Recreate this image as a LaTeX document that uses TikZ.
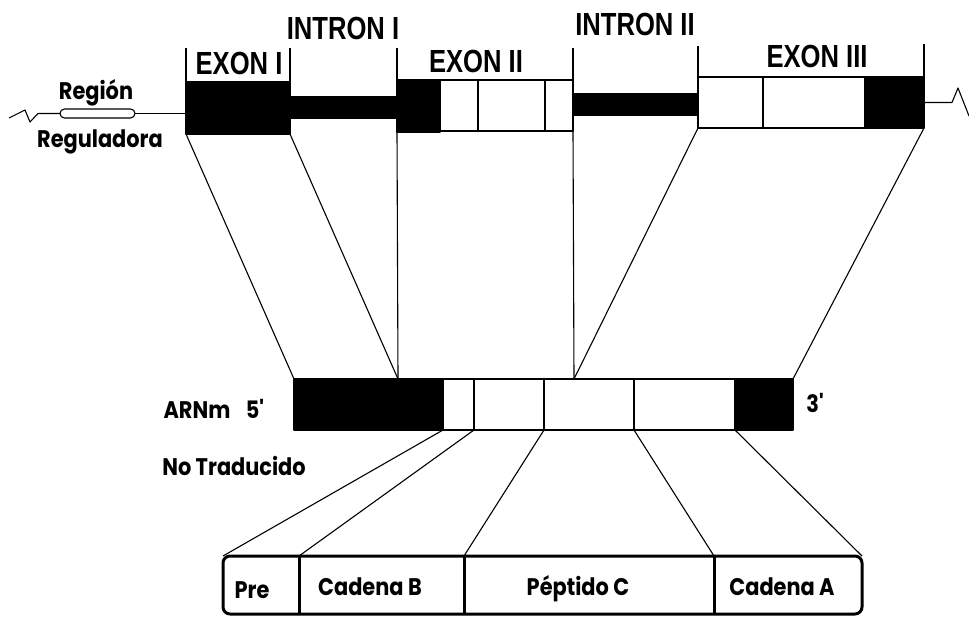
\documentclass[tikz,border=0pt]{standalone}
\usepackage{fontspec}
\setmainfont{Liberation Sans}
\newfontfamily\hdfont[FakeStretch=0.8]{Liberation Sans}
\newfontfamily\cmfont[FakeStretch=0.87]{Poppins}
\begin{document}
\begin{tikzpicture}[x=1pt,y=-1pt,line join=round,
  box/.style={anchor=north west,inner sep=0,outer sep=0,minimum height=51pt,line width=1.2pt},
  blk/.style={box,fill=black,draw=black},
  wht/.style={box,fill=white,draw=black},
  conn/.style={line width=1.1pt},
  brk/.style={line width=1.2pt},
  prot/.style={line width=3pt},
  hd/.style={font=\hdfont\bfseries\fontsize{32}{32}\selectfont,inner sep=0,anchor=base},
  lb/.style={font=\cmfont\bfseries\fontsize{24}{24}\selectfont,inner sep=0,anchor=base}]
\useasboundingbox (0,0) rectangle (969,617);
\clip (0,0) rectangle (969,617);

% ---------- gene ----------
\node[blk,minimum width=104pt,minimum height=52pt] (ex1) at (186,82) {};
\node[blk,minimum width=107pt,minimum height=21pt] (in1) at (290,97) {};
\node[blk,minimum width=43pt,minimum height=52pt] (ex2k) at (397,80) {};
\node[wht,minimum width=38pt] (ex2a) at (440,80) {};
\node[wht,minimum width=67pt] (ex2b) at (478,80) {};
\node[wht,minimum width=28pt] (ex2c) at (545,80) {};
\node[blk,minimum width=125pt,minimum height=21pt] (in2) at (573,94) {};
\node[wht,minimum width=65pt] (ex3a) at (698,77) {};
\node[wht,minimum width=102pt] (ex3b) at (763,77) {};
\node[blk,minimum width=59pt] (ex3k) at (865,77) {};

% brackets
\draw[brk] (ex1.north west) -- ++(0,-34);
\draw[brk] (ex1.north east) -- ++(0,-34);
\draw[brk] (ex2k.north west) -- ++(0,-32);
\draw[brk] (ex2c.north east) -- ++(0,-32);
\draw[brk] (ex3a.north west) -- ++(0,-31);
\draw[brk] (ex3k.north east) -- ++(0,-33);

% regulatory region
\node[draw,line width=1.1pt,rounded corners=4.5pt,minimum width=75pt,minimum height=9pt,inner sep=0,outer sep=0,anchor=west] (reg) at (60,113.5) {};
\draw[conn] (reg.east) -- (reg.east -| ex1.west);
\draw[conn] (reg.west) -- (38,113.5) -- (30,122) -- (25,110) -- (9,118);
\draw[conn] (ex3k.east) -- (952,102.5) -- (958,88) -- (969,116);

% labels
\node[hd] at (239,75) {EXON I};
\node[hd] at (343,40) {INTRON I};
\node[hd] at (476,73) {EXON II};
\node[hd] at (635,36) {INTRON II};
\node[hd] at (817,68) {EXON III};
\node[lb] at (96,100) {Región};
\node[lb] at (100,148) {Reguladora};

% ---------- mRNA ----------
\node[blk,minimum width=149pt] (m1) at (294,379) {};
\node[wht,minimum width=31pt] (m2) at (443,379) {};
\node[wht,minimum width=70pt] (m3) at (474,379) {};
\node[wht,minimum width=90pt] (m4) at (544,379) {};
\node[wht,minimum width=101pt] (m5) at (634,379) {};
\node[blk,minimum width=58pt] (m6) at (735,379) {};
\coordinate (j1) at (398,379);
\coordinate (j2) at (574,379);

\node[lb] at (197,418) {ARNm};
\node[lb] at (255,418) {5'};
\node[lb] at (815,412) {3'};
\node[lb] at (234,475) {No Traducido};

% gene -> mRNA
\draw[conn] (ex1.south west) -- (m1.north west);
\draw[conn] (ex1.south east) -- (j1);
\draw[conn] (ex2k.south west) -- (j1);
\draw[conn] (ex2c.south east) -- (j2);
\draw[conn] (ex3a.south west) -- (j2);
\draw[conn] (ex3k.south east) -- (m6.north east);

% ---------- protein ----------
\node[box,minimum width=76pt,minimum height=58pt,line width=3pt] (p1) at (223,556) {};
\node[box,minimum width=165pt,minimum height=58pt,line width=3pt] (p2) at (299,556) {};
\node[box,minimum width=250pt,minimum height=58pt,line width=3pt] (p3) at (464,556) {};
\node[box,minimum width=148pt,minimum height=58pt,line width=3pt] (p4) at (714,556) {};
\draw[prot,rounded corners=7pt] (p1.north west) rectangle (p4.south east);
\draw[prot] (p2.north west) -- (p2.south west);
\draw[prot] (p3.north west) -- (p3.south west);
\draw[prot] (p4.north west) -- (p4.south west);

\node[lb] at (252,598) {Pre};
\node[lb] at (370,595) {Cadena B};
\node[lb] at (578,595) {Péptido C};
\node[lb] at (782,595) {Cadena A};

% mRNA -> protein
\draw[conn] (m1.south east) -- (p1.north west);
\draw[conn] (m2.south east) -- (p2.north west);
\draw[conn] (m3.south east) -- (p3.north west);
\draw[conn] (m4.south east) -- (p4.north west);
\draw[conn] (m5.south east) -- (p4.north east);
\end{tikzpicture}
\end{document}
